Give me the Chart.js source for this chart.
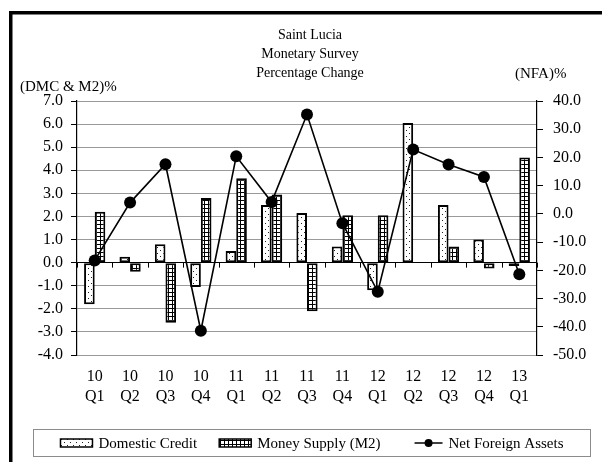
<!DOCTYPE html>
<html>
<head>
<meta charset="utf-8">
<script src="https://cdn.jsdelivr.net/npm/chart.js@4/dist/chart.umd.min.js"></script>
<style>
  html, body { margin: 0; padding: 0; background: #fff; }
  #wrap { width: 602px; height: 462px; }
</style>
</head>
<body>
<div id="wrap"><canvas id="chart" width="602" height="462"></canvas></div>
<script>
// Quarter labels (two-line: year / quarter)
const years    = ['10','10','10','10','11','11','11','11','12','12','12','12','13'];
const quarters = ['Q1','Q2','Q3','Q4','Q1','Q2','Q3','Q4','Q1','Q2','Q3','Q4','Q1'];

// Percentage change by quarter
const domesticCredit   = [-1.8, 0.25, 0.8, -1.05, 0.5, 2.5, 2.15, 0.7, -1.2, 6.05, 2.5, 1.0, -0.15];
const moneySupply      = [2.2, -0.4, -2.6, 2.8, 3.65, 2.95, -2.1, 2.05, 2.05, 0.03, 0.7, -0.25, 4.55];
const netForeignAssets = [-16.5, 4.0, 17.6, -41.4, 20.4, 4.2, 35.2, -3.3, -27.6, 22.8, 17.5, 13.1, -21.4];

const titleLines = ['Saint Lucia', 'Monetary Survey', 'Percentage Change'];
const leftAxisTitle = '(DMC & M2)%';
const rightAxisTitle = '(NFA)%';
const seriesNames = ['Domestic Credit', 'Money Supply (M2)', 'Net Foreign Assets'];

const FONT = '"Liberation Serif", "Times New Roman", serif';

// Fill patterns: sparse dots and a small square grid
function dotPattern() {
  const c = document.createElement('canvas');
  c.width = 6; c.height = 6;
  const g = c.getContext('2d');
  g.fillStyle = '#fff'; g.fillRect(0, 0, 6, 6);
  g.fillStyle = '#222';
  g.fillRect(1, 1, 1, 1);
  g.fillRect(4, 4, 1, 1);
  return g.createPattern(c, 'repeat');
}
function gridPattern() {
  const c = document.createElement('canvas');
  c.width = 4; c.height = 4;
  const g = c.getContext('2d');
  g.fillStyle = '#000'; g.fillRect(0, 0, 4, 4);
  g.fillStyle = '#fff'; g.fillRect(1, 1, 3, 3);
  return g.createPattern(c, 'repeat');
}
const dots = dotPattern();
const grid = gridPattern();

const labels = years.map((y, i) => [y, quarters[i]]);

const decor = {
  id: 'decor',
  beforeDraw(chart) {
    const ctx = chart.ctx;
    ctx.save();
    ctx.fillStyle = '#fff';
    ctx.fillRect(0, 0, chart.width, chart.height);
    ctx.restore();
  },
  afterDraw(chart) {
    const { ctx, chartArea: a, scales: { x, y } } = chart;
    ctx.save();

    // heavy frame edges
    ctx.fillStyle = '#000';
    ctx.fillRect(9, 11, 3.5, chart.height - 11);
    ctx.fillRect(9, 11, chart.width - 9, 3.5);

    // title
    ctx.fillStyle = '#000';
    ctx.font = '14px ' + FONT;
    ctx.textAlign = 'center';
    ctx.textBaseline = 'middle';
    const cx = (a.left + a.right) / 2 + 3;
    titleLines.forEach((t, i) => ctx.fillText(t, cx, 35 + i * 19));

    // axis captions
    ctx.font = '15px ' + FONT;
    ctx.textAlign = 'left';
    ctx.fillText(leftAxisTitle, 20, 87);
    ctx.fillText(rightAxisTitle, 515, 74);

    // category tick marks on the zero line
    const y0 = y.getPixelForValue(0);
    const half = (x.getPixelForValue(1) - x.getPixelForValue(0)) / 2;
    ctx.strokeStyle = '#000';
    ctx.lineWidth = 1;
    ctx.beginPath();
    for (let i = 0; i <= labels.length; i++) {
      const xb = Math.round(x.getPixelForValue(i) - half) + 0.5;
      ctx.moveTo(xb, y0);
      ctx.lineTo(xb, y0 + 5);
    }
    ctx.stroke();

    // legend
    const boxL = 33.5, boxT = 429.5, boxW = 557, boxH = 27;
    ctx.strokeStyle = '#8c8c8c';
    ctx.lineWidth = 1;
    ctx.strokeRect(boxL, boxT, boxW, boxH);
    ctx.font = '15px ' + FONT;
    ctx.textBaseline = 'middle';
    const ly = boxT + boxH / 2;
    const sw = 32, lw = 28, gap = 6, spacings = [22, 34];
    const widths = seriesNames.map(n => ctx.measureText(n).width);
    const total = sw + gap + widths[0] + spacings[0] + sw + gap + widths[1] + spacings[1] + lw + gap + widths[2];
    let lx = boxL + boxW / 2 - total / 2;
    [dots, grid].forEach((pat, i) => {
      ctx.fillStyle = pat;
      ctx.fillRect(lx, ly - 4, sw, 8);
      ctx.strokeStyle = '#000';
      ctx.lineWidth = 1.5;
      ctx.strokeRect(lx, ly - 4, sw, 8);
      ctx.fillStyle = '#000';
      ctx.fillText(seriesNames[i], lx + sw + gap, ly + 1);
      lx += sw + gap + widths[i] + spacings[i];
    });
    ctx.strokeStyle = '#000';
    ctx.lineWidth = 1.5;
    ctx.beginPath();
    ctx.moveTo(lx, ly);
    ctx.lineTo(lx + lw, ly);
    ctx.stroke();
    ctx.beginPath();
    ctx.arc(lx + lw / 2, ly, 4, 0, Math.PI * 2);
    ctx.fillStyle = '#000';
    ctx.fill();
    ctx.fillText(seriesNames[2], lx + lw + gap, ly + 1);

    ctx.restore();
  }
};

new Chart(document.getElementById('chart'), {
  type: 'bar',
  data: {
    labels: labels,
    datasets: [
      {
        type: 'line',
        label: seriesNames[2],
        data: netForeignAssets,
        yAxisID: 'y2',
        borderColor: '#000',
        borderWidth: 1.6,
        backgroundColor: '#000',
        pointRadius: 6,
        pointBackgroundColor: '#000',
        pointBorderWidth: 0,
        tension: 0,
        order: 0
      },
      {
        label: seriesNames[0],
        data: domesticCredit,
        yAxisID: 'y',
        backgroundColor: dots,
        borderColor: '#000',
        borderWidth: 2,
        borderSkipped: false,
        categoryPercentage: 0.6,
        barPercentage: 1.0,
        order: 1
      },
      {
        label: seriesNames[1],
        data: moneySupply,
        yAxisID: 'y',
        backgroundColor: grid,
        borderColor: '#000',
        borderWidth: 2,
        borderSkipped: false,
        categoryPercentage: 0.6,
        barPercentage: 1.0,
        order: 1
      }
    ]
  },
  options: {
    responsive: false,
    animation: false,
    devicePixelRatio: 1,
    layout: { padding: { top: 101, left: 0, right: 0, bottom: 0 } },
    plugins: {
      legend: { display: false },
      title: { display: false },
      tooltip: { enabled: false }
    },
    scales: {
      x: {
        offset: true,
        grid: { display: false, drawTicks: false },
        border: { display: false },
        ticks: {
          color: '#000',
          font: { family: FONT, size: 16, lineHeight: 1.25 },
          maxRotation: 0,
          autoSkip: false,
          padding: 12
        },
        afterFit(s) { s.height = 107; }
      },
      y: {
        position: 'left',
        min: -4,
        max: 7,
        ticks: {
          stepSize: 1,
          color: '#000',
          font: { family: FONT, size: 16 },
          padding: 8,
          callback: v => Number(v).toFixed(1)
        },
        grid: {
          color: c => (c.tick && c.tick.value === 0) ? '#000' : '#9a9a9a',
          lineWidth: 1,
          tickLength: 6,
          tickColor: '#000'
        },
        border: { display: true, color: '#000', width: 1.2 },
        afterFit(s) { s.width = 77; }
      },
      y2: {
        position: 'right',
        min: -50,
        max: 40,
        ticks: {
          stepSize: 10,
          color: '#000',
          font: { family: FONT, size: 16 },
          padding: 10,
          callback: v => Number(v).toFixed(1)
        },
        grid: {
          drawOnChartArea: false,
          tickLength: 6,
          tickColor: '#000'
        },
        border: { display: true, color: '#000', width: 1.2 },
        afterFit(s) { s.width = 65; }
      }
    }
  },
  plugins: [decor]
});
</script>
</body>
</html>
